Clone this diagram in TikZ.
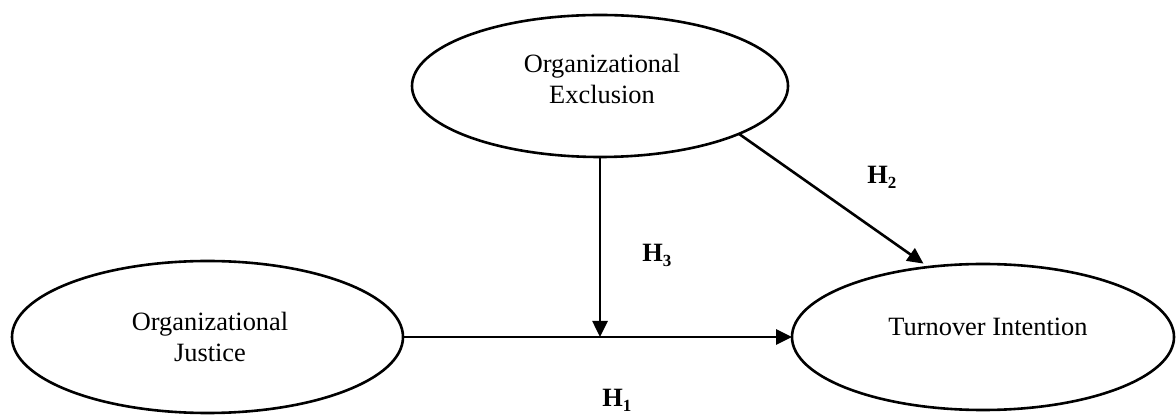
\documentclass[tikz,border=0pt]{standalone}
\usepackage{fontspec}
\setmainfont{Liberation Serif}
\usetikzlibrary{shapes.geometric,arrows.meta}

% small bold subscript for the hypothesis labels
\newcommand\hypsub[1]{\raisebox{-2.2bp}{\fontsize{8.5bp}{8.5bp}\selectfont\bfseries #1}}

\begin{document}
\begin{tikzpicture}[x=0.5bp,y=-0.5bp,
  construct/.style={draw, ellipse, line width=1.3bp, inner sep=0pt, outer sep=0pt},
  caption/.style={inner sep=0pt, align=center,
    font=\fontsize{13.2bp}{15.5bp}\selectfont},
  link/.style={line width=1.3bp, -{Triangle[width=7.5bp,length=8bp]}},
  hyp/.style={anchor=base west, inner sep=0pt,
    font=\fontsize{13.2bp}{15bp}\selectfont\bfseries}]
\useasboundingbox (0,0) rectangle (1176,416);

% constructs
\node[construct, minimum width=188bp, minimum height=71bp] (excl) at (600,86) {};
\node[caption] (excl-t) at (602,79) {Organizational\\Exclusion};

\node[construct, minimum width=195.5bp, minimum height=76bp] (just) at (207.5,337) {};
\node[caption] (just-t) at (210,337) {Organizational\\Justice};

\node[construct, minimum width=191bp, minimum height=73bp] (turn) at (983,337) {};
\node[caption] (turn-t) at (988,327) {Turnover Intention};

% paths
\coordinate (cross) at (excl.south |- just.east);
\draw[link] (just.east) -- (just.east -| turn.west);
\draw[link] (excl.south) -- (cross);
\draw[link, shorten >=3bp] (excl.-19.4) -- (turn.128.5);

% hypothesis labels
\node[hyp] (h1) at (602,407) {H\hypsub{1}};
\node[hyp] (h2) at (867,184) {H\hypsub{2}};
\node[hyp] (h3) at (642,262) {H\hypsub{3}};
\end{tikzpicture}
\end{document}
